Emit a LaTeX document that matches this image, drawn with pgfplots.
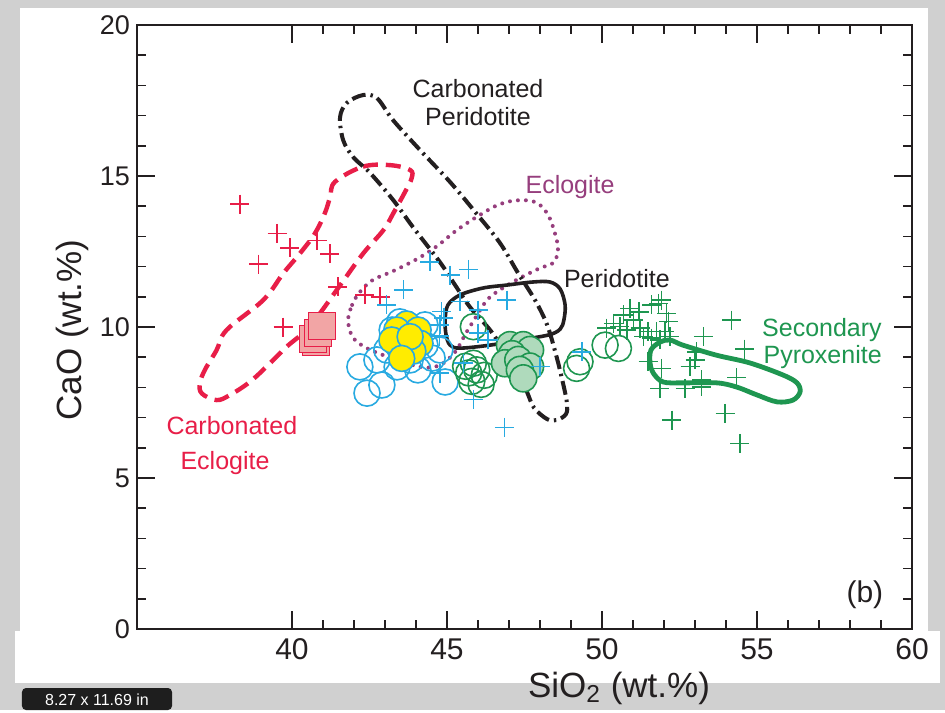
\documentclass[border=0pt]{standalone}
\usepackage{pgfplots}
\pgfplotsset{compat=1.18}
\usepackage{fontspec}
\setmainfont{Liberation Sans}
\definecolor{bggray}{RGB}{208,208,208}
\definecolor{badge}{RGB}{30,30,30}
\definecolor{cred}{RGB}{232,30,72}
\definecolor{cpink}{RGB}{242,165,165}
\definecolor{ccyan}{RGB}{40,170,225}
\definecolor{cyell}{RGB}{255,236,0}
\definecolor{cgreen}{RGB}{30,150,80}
\definecolor{cgfill}{RGB}{175,218,188}
\definecolor{cpurp}{RGB}{150,62,125}
\definecolor{ctext}{RGB}{35,31,32}
\begin{document}
\begin{tikzpicture}
\fill[bggray] (-68.5bp,-40.5bp) rectangle (404bp,314.5bp);
\fill[white] (-58.5bp,-1.5bp) rectangle (395.5bp,310.5bp);
\fill[white] (-61bp,-27bp) rectangle (401.5bp,-1bp);
\fill[badge, rounded corners=2bp] (-57.5bp,-40.5bp) rectangle (17.5bp,-29.5bp);
\node[white, font=\fontsize{8bp}{9bp}\selectfont] at (-20bp,-35.5bp) {8.27 x 11.69 in};
\begin{axis}[
  at={(0,0)}, anchor=south west,
  scale only axis, width=387.5bp, height=302bp,
  xmin=35, xmax=60, ymin=0, ymax=20,
  xtick={40,45,50,55,60}, ytick={0,5,10,15,20},
  minor x tick num=4, minor y tick num=4,
  tick align=inside,
  major tick length=9bp, minor tick length=4.5bp,
  axis line style={line width=1bp, ctext},
  every tick/.style={line width=0.75bp, ctext},
  /pgf/number format/assume math mode=true,
  yticklabel style={font=\fontsize{13.5bp}{15bp}\selectfont, text=ctext},
  xticklabel style={font=\fontsize{15bp}{17bp}\selectfont, text=ctext, yshift=-1.5bp},
  xlabel={SiO\textsubscript{2} (wt.\%)},
  ylabel={CaO (wt.\%)},
  label style={font=\fontsize{17.5bp}{20bp}\selectfont, text=ctext},
  xlabel style={at={(axis description cs:0.622,0)}, anchor=center, yshift=-29.5bp},
  ylabel style={at={(axis description cs:-0.0839,0.495)}, anchor=center, rotate=0},
  clip=false,
]
% Red squares (carbonated eclogite experiments)
\addplot[only marks, mark=square*, mark size=6.75bp, mark options={fill=cpink, draw=cred, line width=0.8bp}]
 coordinates {(40.77,9.5) (40.68,9.6) (40.84,9.8) (40.97,10.03)};
% Blue open circles
\addplot[only marks, mark=o, mark size=6.5bp, mark options={draw=ccyan, line width=0.8bp}]
 coordinates {(42.19,8.68) (42.42,7.81) (42.9,8.08) (42.74,8.91) (44.94,8.18) (44.52,8.97)
 (44.77,9.24) (43.06,9.24) (43.23,9.9) (44.29,10.07) (43.48,10.17) (43.81,8.91)
 (44.29,9.4) (43.39,8.68) (44.06,8.58)};
% Yellow filled circles
\addplot[only marks, mark=*, mark size=6.5bp, mark options={fill=cyell, draw=ccyan, line width=0.8bp}]
 coordinates {(43.7,10.1) (43.38,9.9) (44.07,9.9) (43.22,9.57) (44.13,9.46) (43.9,9.2)
 (43.81,9.68) (43.54,8.96)};
% Eclogite field (dotted)
\addplot[cpurp, line width=2bp, line cap=round, dash pattern=on 0bp off 4bp, smooth cycle, tension=0.6]
 coordinates {(41.81,10.23) (41.94,10.73) (42.19,11.16) (42.61,11.56) (43.26,11.85) (44.03,12.25)
 (44.68,12.68) (45.32,13.21) (46.06,13.71) (46.71,14.07) (47.35,14.2) (47.9,14.11) (48.26,13.71)
 (48.48,13.11) (48.58,12.55) (48.42,12.12) (48.0,11.95) (47.35,11.62) (46.71,11.23) (46.29,10.89)
 (45.87,10.23) (45.58,9.74) (45.26,9.17) (44.77,8.74) (44.13,8.68) (42.94,9.07) (42.29,9.37) (41.94,9.7)};
% Carbonated eclogite field (dashed)
\addplot[cred, line width=2.2bp, dash pattern=on 7.5bp off 4bp, smooth cycle, tension=0.6]
 coordinates {(41.39,14.81) (42.29,15.31) (43.16,15.36) (43.81,15.2) (43.86,14.93) (43.65,14.48)
 (43.27,13.77) (42.95,13.21) (42.3,12.44) (41.6,11.45) (40.9,10.45) (40.47,9.9) (39.83,9.35)
 (39.29,8.8) (38.65,8.19) (38.0,7.75) (37.57,7.58) (37.09,7.8) (37.03,8.14) (37.19,8.58)
 (37.57,9.24) (37.89,9.9) (39.07,10.89) (39.72,11.78) (40.26,12.44) (40.74,13.1) (41.06,13.77)
 (41.23,14.31)};
% Peridotite field (solid black)
\addplot[ctext, line width=1.8bp, smooth cycle, tension=0.55]
 coordinates {(45.03,10.73) (45.42,11.06) (46.16,11.29) (46.94,11.39) (47.77,11.49) (48.32,11.49)
 (48.65,11.26) (48.81,10.73) (48.77,10.23) (48.65,9.93) (48.29,9.74) (47.35,9.57) (46.39,9.4)
 (45.42,9.3) (45.1,9.4) (44.97,9.74) (44.94,10.23)};
% Carbonated peridotite field (dash-dot)
\addplot[ctext, line width=2bp, dash pattern=on 7bp off 2.5bp on 1.2bp off 2.5bp, smooth cycle, tension=0.55]
 coordinates {(42.29,17.68) (42.74,17.58) (43.26,16.85) (44.13,15.86) (45.1,14.8) (45.94,13.77)
 (46.71,12.78) (47.29,11.79) (47.84,10.89) (48.23,10.07) (48.52,9.07) (48.74,8.15) (48.87,7.48)
 (48.84,7.12) (48.55,6.92) (48.23,6.95) (47.81,7.32) (47.58,7.85) (47.29,8.48) (46.87,9.17)
 (46.39,9.9) (45.74,10.66) (45.26,11.39) (44.77,12.15) (43.9,13.31) (43.26,14.21) (42.52,15.1)
 (41.97,15.63) (41.65,16.19) (41.55,16.95) (41.77,17.42)};
% Secondary pyroxenite field
\addplot[cgreen, line width=2.4bp, smooth cycle, tension=0.55]
 coordinates {(51.58,9.24) (51.87,9.5) (52.19,9.57) (52.61,9.4) (53.68,9.07) (54.77,8.81)
 (55.84,8.41) (56.29,8.15) (56.39,7.85) (56.16,7.58) (55.65,7.52) (55.0,7.75) (54.35,8.01)
 (53.71,8.15) (52.61,8.15) (51.97,8.18) (51.65,8.48) (51.55,8.81)};
% Green open circles
\addplot[only marks, mark=o, mark size=6.5bp, mark options={draw=cgreen, line width=0.8bp}]
 coordinates {(45.85,10.01) (45.96,8.58) (45.7,8.48) (46.2,8.4) (45.85,8.8) (45.8,8.2) (46.1,8.1)
 (45.6,8.7) (49.18,8.63) (49.29,8.85) (50.1,9.4) (50.53,9.29)};
% Green filled circles
\addplot[only marks, mark=*, mark size=6.75bp, mark options={fill=cgfill, draw=cgreen, line width=0.8bp}]
 coordinates {(47.03,9.4) (47.46,9.4) (47.68,9.24) (47.1,9.1) (46.87,8.8) (47.3,8.91) (47.68,8.69)
 (47.35,8.58) (47.46,8.3)};
% Red crosses
\addplot[only marks, mark=+, mark size=4.75bp, mark options={draw=cred, line width=0.75bp}]
 coordinates {(38.32,14.07) (39.52,13.1) (39.93,12.62) (38.92,12.08) (40.81,12.87) (41.22,12.42)
 (41.48,11.33) (42.35,11.06) (42.84,11.0) (39.71,10.0)};
% Blue crosses
\addplot[only marks, mark=+, mark size=4.75bp, mark options={draw=ccyan, line width=0.75bp}]
 coordinates {(44.45,12.16) (45.10,11.72) (45.69,11.91) (43.59,11.23) (43.05,10.73) (45.42,10.84)
 (46.93,10.89) (46.0,10.56) (44.83,10.51) (44.77,10.07) (46.0,9.8) (46.33,9.57) (44.77,8.47)
 (45.53,8.8) (48.0,8.69) (45.85,7.6) (46.85,6.68) (49.35,9.18) (44.75,9.7) (44.9,10.3)};
% Green crosses
\addplot[only marks, mark=+, mark size=4.75bp, mark options={draw=cgreen, line width=0.75bp}]
 coordinates {(50.9,10.62) (51.6,10.73) (51.82,10.78) (51.92,10.89) (50.69,10.4) (51.01,10.23)
 (50.37,10.12) (50.15,9.96) (50.58,10.01) (51.23,9.96) (51.49,9.85) (51.76,9.85) (52.03,9.85)
 (51.34,9.68) (52.19,9.68) (51.6,9.63) (51.87,9.57) (52.14,10.18) (52.08,10.45) (54.18,10.23)
 (53.27,9.68) (54.6,9.27) (53.05,9.18) (53.0,8.91) (51.49,8.85) (51.92,8.63) (54.34,8.33)
 (53.21,8.25) (51.87,7.97) (52.68,7.97) (53.21,8.02) (52.25,6.92) (53.97,7.14) (54.45,6.15)
 (52.84,8.69) (51.2,10.5) (50.8,9.9)};
% Labels
\node[ctext, align=center, font=\fontsize{12.5bp}{14bp}\selectfont] at (axis cs:46.0,17.42) {Carbonated\\Peridotite};
\node[cpurp, font=\fontsize{12.5bp}{14bp}\selectfont] at (axis cs:48.97,14.64) {Eclogite};
\node[ctext, font=\fontsize{12.5bp}{14bp}\selectfont] at (axis cs:50.48,11.59) {Peridotite};
\node[cgreen, align=right, anchor=east, font=\fontsize{12.5bp}{13.5bp}\selectfont] at (axis cs:59.25,9.44) {Secondary\\Pyroxenite};
\node[cred, font=\fontsize{12.5bp}{14bp}\selectfont] at (axis cs:38.06,6.75) {Carbonated};
\node[cred, font=\fontsize{12.5bp}{14bp}\selectfont] at (axis cs:37.84,5.5) {Eclogite};
\node[ctext, font=\fontsize{15bp}{17bp}\selectfont] at (axis cs:58.48,1.13) {(b)};
\end{axis}
\end{tikzpicture}
\end{document}
